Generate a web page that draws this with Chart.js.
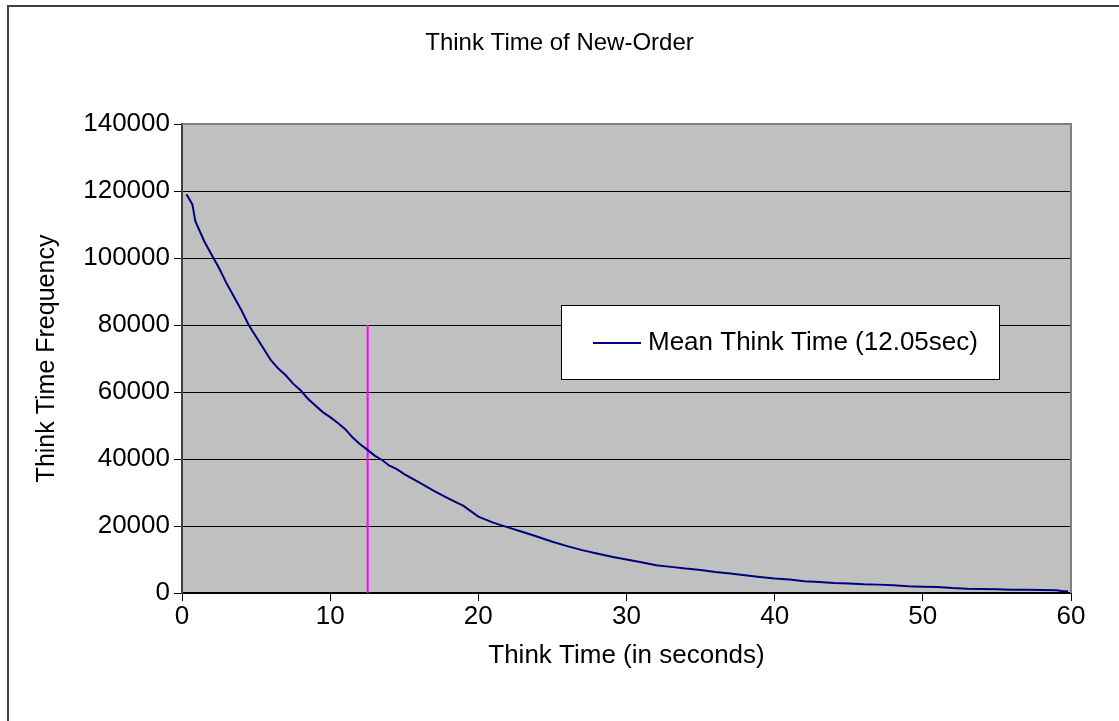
<!DOCTYPE html>
<html>
<head>
<meta charset="utf-8">
<title>Think Time of New-Order</title>
<script src="https://cdn.jsdelivr.net/npm/chart.js@4/dist/chart.umd.min.js"></script>
<style>
  body { margin: 0; background: #fff; }
  canvas { display: block; }
</style>
</head>
<body>
<canvas id="thinkTimeChart" width="1119" height="721"></canvas>
<script>
// values
const thinkTimes = [0.3, 0.7, 0.9, 1.5, 2, 2.5, 3, 3.5, 4, 4.5, 5, 5.5, 6, 6.5, 7, 7.5, 8, 8.5, 9, 9.5,
        10, 10.5, 11, 11.5, 12, 12.5, 13, 13.5, 14, 14.5, 15, 16, 17, 18, 19, 20, 21, 22, 23, 24,
        25, 26, 27, 28, 29, 30, 31, 32, 33, 34, 35, 36, 37, 38, 39, 40, 41, 42, 43, 44,
        45, 46, 47, 48, 49, 50, 51, 52, 53, 54, 55, 56, 57, 58, 59, 59.5, 59.8];
const frequencies = [119000, 116000, 111000, 105000, 101000, 97000, 92500, 88500, 84500, 80000,
        76500, 73000, 69500, 67000, 65000, 62500, 60500, 58000, 56000, 54000,
        52500, 50800, 49000, 46500, 44500, 42800, 41000, 39700, 38000, 37000,
        35500, 33000, 30500, 28200, 26000, 22800, 21000, 19600, 18200, 16800,
        15300, 14000, 12800, 11800, 10800, 10000, 9200, 8300, 7800, 7300,
        6900, 6300, 5800, 5300, 4800, 4300, 4000, 3500, 3300, 3000,
        2800, 2600, 2500, 2300, 2000, 1900, 1800, 1500, 1300, 1200,
        1100, 1000, 1000, 900, 800, 500, 500];
const meanLineX = [12.53, 12.53];
const meanLineY = [0, 80000];
const xTicks = [0, 10, 20, 30, 40, 50, 60];
const yTicks = [0, 20000, 40000, 60000, 80000, 100000, 120000, 140000];
const seriesLabel = 'Mean Think Time (12.05sec)';

const FONT = '"Liberation Sans", Arial, sans-serif';
Chart.defaults.font.family = FONT;
Chart.defaults.color = '#000';

var excelLook = {
        id: 'excelLook',
        beforeDraw: function(chart) {
                var c = chart.ctx, a = chart.chartArea;
                c.save();
                c.fillStyle = '#fff';
                c.fillRect(0, 0, chart.width, chart.height);
                c.strokeStyle = '#404040';
                c.lineWidth = 2;
                c.strokeRect(8, 6, chart.width + 20, chart.height + 20);
                c.fillStyle = '#c0c0c0';
                c.fillRect(a.left, a.top, a.right - a.left, a.bottom - a.top);
                c.restore();
        },
        afterDraw: function(chart) {
                var c = chart.ctx, a = chart.chartArea;
                c.save();
                c.strokeStyle = '#808080';
                c.lineWidth = 2;
                c.beginPath();
                c.moveTo(a.left, a.top);
                c.lineTo(a.right, a.top);
                c.lineTo(a.right, a.bottom);
                c.stroke();

                // legend box
                var bx = 561.5, by = 305.5, bw = 438, bh = 74;
                c.fillStyle = '#fff';
                c.fillRect(bx, by, bw, bh);
                c.strokeStyle = '#000';
                c.lineWidth = 1;
                c.strokeRect(bx, by, bw, bh);
                var ds = chart.data.datasets[0];
                c.strokeStyle = ds.borderColor;
                c.lineWidth = 2;
                c.beginPath();
                c.moveTo(593, 343);
                c.lineTo(641, 343);
                c.stroke();
                c.fillStyle = '#000';
                c.font = '26px ' + FONT;
                c.textBaseline = 'middle';
                c.textAlign = 'left';
                c.fillText(ds.label, 648, 343);
                c.restore();
        }
};

var ctx = document.getElementById('thinkTimeChart').getContext('2d');
var chart = new Chart(ctx, {
        type: 'line',
        data: {
                datasets: [{
                        label: seriesLabel,
                        data: thinkTimes.map(function(t, i) { return {x: t, y: frequencies[i]}; }),
                        borderColor: '#000080',
                        borderWidth: 2,
                        pointRadius: 0,
                        tension: 0
                }, {
                        label: 'mean',
                        data: meanLineX.map(function(t, i) { return {x: t, y: meanLineY[i]}; }),
                        borderColor: '#ff00ff',
                        borderWidth: 2,
                        pointRadius: 0
                }]
        },
        options: {
                responsive: false,
                animation: false,
                devicePixelRatio: 1,
                layout: { padding: 0 },
                plugins: {
                        legend: { display: false },
                        tooltip: { enabled: false },
                        title: {
                                display: true,
                                text: 'Think Time of New-Order',
                                color: '#000',
                                font: { size: 24, weight: 'normal', lineHeight: 1.2 },
                                padding: { top: 29, bottom: 66.2 }
                        }
                },
                scales: {
                        x: {
                                type: 'linear',
                                min: 0,
                                max: 60,
                                afterBuildTicks: function(scale) { scale.ticks = xTicks.map(function(v) { return {value: v}; }); },
                                afterFit: function(scale) { scale.height = 128; },
                                ticks: { font: { size: 26 }, padding: 0, maxRotation: 0, color: '#000' },
                                grid: { drawOnChartArea: false, tickLength: 8, color: '#000' },
                                border: { color: '#000', width: 2 },
                                title: {
                                        display: true,
                                        text: 'Think Time (in seconds)',
                                        font: { size: 26 },
                                        padding: { top: 0, bottom: 50 }
                                }
                        },
                        y: {
                                min: 0,
                                max: 140000,
                                afterBuildTicks: function(scale) { scale.ticks = yTicks.map(function(v) { return {value: v}; }); },
                                afterFit: function(scale) { scale.width = 182; },
                                ticks: {
                                        font: { size: 26 },
                                        padding: 4,
                                        color: '#000',
                                        callback: function(v) { return String(v); }
                                },
                                grid: { color: '#000', lineWidth: 1, tickLength: 8 },
                                border: { color: '#404040', width: 2 },
                                title: {
                                        display: true,
                                        text: 'Think Time Frequency',
                                        font: { size: 25 },
                                        padding: { top: 32, bottom: 0 }
                                }
                        },
                        // empty right margin so the chart title centres on the whole canvas
                        yRight: {
                                position: 'right',
                                min: 0,
                                max: 1,
                                afterFit: function(scale) { scale.width = 48; },
                                ticks: { display: false },
                                grid: { display: false },
                                border: { display: false }
                        }
                }
        },
        plugins: [excelLook]
});
</script>
</body>
</html>
